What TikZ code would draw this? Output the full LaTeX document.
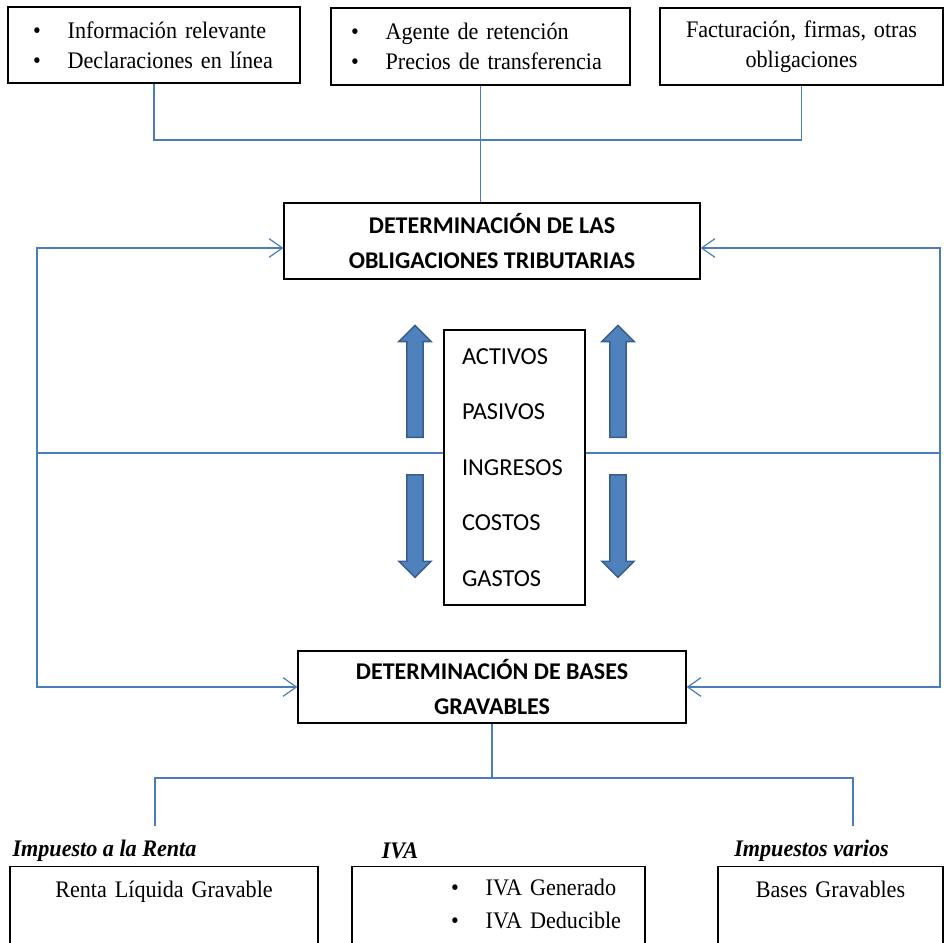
\documentclass[tikz,border=0pt]{standalone}
\usepackage{fontspec}
\setmainfont{Liberation Serif}[FakeStretch=0.933]
\newfontfamily\calibri{Carlito}
\usepackage{xcolor}
\usetikzlibrary{shapes.arrows, arrows.meta, positioning, calc}
\definecolor{linkblue}{HTML}{4A7EBB}
\definecolor{arrowfill}{HTML}{4F81BD}
\definecolor{arrowedge}{HTML}{385D8A}
\newcommand{\bul}[1]{\makebox[26pt][l]{\textbullet}#1}

\begin{document}
\begin{tikzpicture}[
    x=0.75pt, y=-0.75pt,
    font=\fontsize{17.8}{22.5}\selectfont,
    box/.style={draw=black, line width=0.9pt, inner ysep=0pt},
    head/.style={box, font=\calibri\bfseries\fontsize{18}{26}\selectfont, align=center},
    taxlbl/.style={font=\bfseries\itshape\fontsize{17.8}{20}\selectfont},
    link/.style={draw=linkblue, line width=0.9pt},
    flow/.style={link, -{Straight Barb[length=10pt, width=14pt]}},
    fatarrow/.style={single arrow, draw=arrowedge, fill=arrowfill, line width=1.1pt, inner xsep=0pt, inner ysep=5.6pt, minimum width=23.25pt, single arrow head extend=6pt}
]
    \useasboundingbox (0,0) rectangle (944,942);
    \clip (0,0) rectangle (944,942);

    % Obligation sources
    \node[box, minimum width=219pt, minimum height=57pt, text width=181.5pt, inner xsep=18.75pt, align=left] (info) at (154,45) {\bul{Información relevante}\\\bul{Declaraciones en línea}};
    \node[box, minimum width=224.25pt, minimum height=57.75pt, text width=194.25pt, inner xsep=15pt, align=left] (agente) at (480.5,46.5) {\bul{Agente de retención}\\\bul{Precios de transferencia}};
    \node[box, minimum width=212.25pt, minimum height=57.75pt, text width=190.5pt, inner xsep=10.875pt, align=center] (factur) at (801.5,46.5) {Facturación, firmas, otras\\obligaciones};

    % Determination boxes
    \node[head, minimum width=312pt, minimum height=57pt] (oblig) at (492,241) {DETERMINACIÓN DE LAS\\OBLIGACIONES TRIBUTARIAS};
    \node[head, minimum width=291pt, minimum height=54pt] (bases) at (492,687) {DETERMINACIÓN DE BASES\\GRAVABLES};

    % Accounts
    \node[box, minimum height=206.25pt, text width=78.75pt, inner xsep=13.5pt, align=left, font=\calibri\fontsize{18.3}{41.6}\selectfont] (cuentas) at (514.5,467.5) {ACTIVOS\\PASIVOS\\INGRESOS\\COSTOS\\GASTOS};

    % Fat arrows
    \node[fatarrow, minimum height=84pt, rotate=90] (upL) at (415,385.5) {};
    \node[fatarrow, minimum height=84pt, rotate=90] (upR) at (618,385.5) {};
    \node[fatarrow, minimum height=77pt, rotate=-90] (downL) at (415,522) {};
    \node[fatarrow, minimum height=77pt, rotate=-90] (downR) at (618,522) {};

    % Tax labels
    \node[taxlbl] (renta) at (104.5,851) {Impuesto a la Renta};
    \node[taxlbl] (iva) at (400,851) {IVA};
    \node[taxlbl] (varios) at (811.5,851) {Impuestos varios};

    % Tax boxes
    \node[box, anchor=north, text width=216pt, inner xsep=7.5pt, text height=23pt, text depth=48pt, align=center] (rentabox) at (164,866) {Renta Líquida Gravable};
    \node[box, anchor=north, text width=204.75pt, inner xsep=7.5pt, text height=22pt, text depth=48pt, align=left, font=\fontsize{17.8}{24.75}\selectfont] (ivabox) at (498.5,866) {\hspace*{66.75pt}\bul{IVA Generado}\\\hspace*{66.75pt}\bul{IVA Deducible}};
    \node[box, anchor=north, text width=153.75pt, inner xsep=7.5pt, text height=23pt, text depth=48pt, align=center] (variosbox) at (830.5,866) {Bases Gravables};

    % Bus points
    \coordinate (busT) at (481,140);
    \coordinate (loopL) at (37,453);
    \coordinate (loopR) at (940,453);
    \coordinate (busB) at (497,778);
    \coordinate (dropL) at (155,826);
    \coordinate (dropR) at (853,826);

    % Connections
    \draw[link] (info.south) |- (busT) -| (factur.south);
    \draw[link] (agente.south) -- (agente.south |- oblig.north);
    \draw[flow] (loopL) |- ([yshift=-5.25pt]oblig.west); \draw[flow] (loopR) |- ([yshift=-5.25pt]oblig.east);
    \draw[flow] (loopL) |- (bases.west); \draw[flow] (loopR) |- (bases.east);
    \draw[link] (loopL) -- (loopL -| cuentas.west); \draw[link] (loopR) -- (loopR -| cuentas.east);
    \draw[link] (bases.south) -- (bases.south |- busB);
    \draw[link] (dropL) -- (dropL |- busB) -- (dropR |- busB) -- (dropR);
\end{tikzpicture}
\end{document}
